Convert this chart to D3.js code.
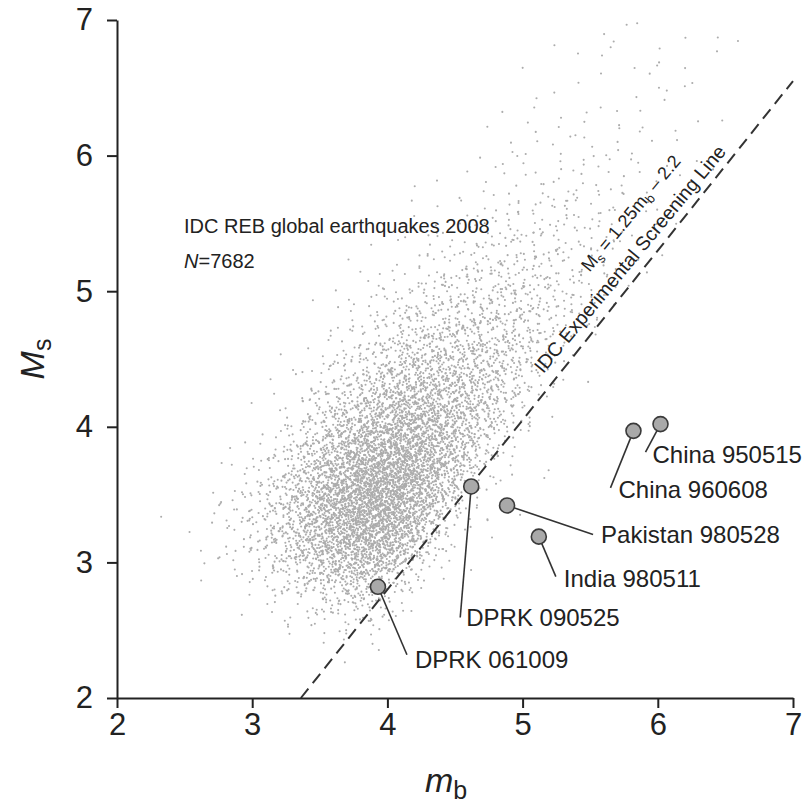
<!DOCTYPE html>
<html>
<head>
<meta charset="utf-8">
<script src="https://cdn.jsdelivr.net/npm/d3@7"></script>
<style>
  body { margin: 0; background: #fff; }
  text { font-family: "Liberation Sans", Arial, sans-serif; fill: #222; }
</style>
</head>
<body>
<div id="chart"></div>
<script>
// mb vs Ms for IDC REB earthquakes 2008, with explosion events

// earthquake cloud, read off the picture as counts per 0.2 x 0.2 bin
// mbBins = lower edge of each column, msBins = lower edge of each row
const mbBins = [2.4, 2.6, 2.8, 3.0, 3.2, 3.4, 3.6, 3.8, 4.0, 4.2, 4.4, 4.6, 4.8, 5.0, 5.2, 5.4, 5.6, 5.8, 6.0, 6.2, 6.4];
const msBins = [2.2, 2.4, 2.6, 2.8, 3.0, 3.2, 3.4, 3.6, 3.8, 4.0, 4.2, 4.4, 4.6, 4.8, 5.0, 5.2, 5.4, 5.6, 5.8, 6.0, 6.2, 6.4, 6.6, 6.8];
const quakeCounts = [
  [0,0,0,0,1,1,0,0,0,0,0,0,0,0,0,0,0,0,0,0,0,0,0,0],
  [0,0,0,1,3,3,2,1,0,0,0,0,0,0,0,0,0,0,0,0,0,0,0,0],
  [0,0,1,4,8,9,7,3,1,0,0,0,0,0,0,0,0,0,0,0,0,0,0,0],
  [0,0,3,12,24,28,22,12,5,2,0,0,0,0,0,0,0,0,0,0,0,0,0,0],
  [0,2,9,30,58,70,60,38,18,8,3,1,0,0,0,0,0,0,0,0,0,0,0,0],
  [0,4,18,58,110,140,135,100,60,30,14,6,2,1,0,0,0,0,0,0,0,0,0,0],
  [1,7,28,85,160,205,210,170,115,65,32,15,7,3,1,0,0,0,0,0,0,0,0,0],
  [0,6,28,90,185,245,260,225,165,105,60,30,15,7,3,1,0,0,0,0,0,0,0,0],
  [0,1,5,28,130,195,230,230,195,145,95,55,30,15,7,3,1,0,0,0,0,0,0,0],
  [0,0,0,4,30,85,140,165,160,135,100,68,42,24,12,6,3,1,0,0,0,0,0,0],
  [0,0,0,0,2,10,48,88,105,105,90,68,46,30,17,9,4,2,1,0,0,0,0,0],
  [0,0,0,0,1,2,4,18,48,66,68,62,48,35,22,13,7,3,2,1,0,0,0,0],
  [0,0,0,0,0,1,2,3,7,25,40,45,41,34,25,17,10,6,3,2,1,0,0,0],
  [0,0,0,0,0,0,1,1,1,3,10,21,26,25,20,16,11,7,4,3,2,1,0,0],
  [0,0,0,0,0,0,0,0,0,0,2,5,13,17,17,14,11,8,5,4,2,1,1,1],
  [0,0,0,0,0,0,0,0,0,0,0,0,3,7,9,10,8,6,5,3,2,2,1,2],
  [0,0,0,0,0,0,0,0,0,0,0,0,0,2,4,6,6,5,4,3,2,1,1,3],
  [0,0,0,0,0,0,0,0,0,0,0,0,0,0,1,2,3,4,3,3,2,2,1,2],
  [0,0,0,0,0,0,0,0,0,0,0,0,0,0,0,0,1,2,2,2,2,1,2,1],
  [0,0,0,0,0,0,0,0,0,0,0,0,0,0,0,0,0,0,1,1,1,1,2,1],
  [0,0,0,0,0,0,0,0,0,0,0,0,0,0,0,0,0,0,0,0,1,0,1,1]
];
const binSize = 0.2;

// explosions
const eventNames = ["DPRK 061009", "DPRK 090525", "Pakistan 980528", "India 980511", "China 960608", "China 950515"];
const eventMb = [3.93, 4.62, 4.885, 5.12, 5.82, 6.02];
const eventMs = [2.82, 3.56, 3.42, 3.19, 3.97, 4.02];

// screening line Ms = 1.25 mb - 2.2
const screenSlope = 1.25, screenIntercept = -2.2;

const tickValues = [2, 3, 4, 5, 6, 7];

// leader line end (px from the circle) and text offset (px from leader end)
const leaderOffsets = [[29, 68], [-11, 131], [86, 29], [17, 40], [-23, 57], [-15, 28]];
const textOffsets = [[8, 13], [6, 9], [8, 9], [8, 10], [8, 10], [7, 11]];

const width = 807, height = 809,
    margin = ({top: 20, right: 14, bottom: 111, left: 117});

let svg = d3.select("#chart")
    .append("svg")
    .attr("width", width)
    .attr("height", height)
    .attr("viewBox", [0, 0, width, height]);

const x = d3.scaleLinear()
    .domain([2, 7])
    .range([margin.left, width - margin.right]);

const y = d3.scaleLinear()
    .domain([2, 7])
    .range([height - margin.bottom, margin.top]);

// halton radical inverse, used to lay each bin's count out evenly
function halton(i, b) {
    let f = 1, r = 0;
    while (i > 0) { f /= b; r += f * (i % b); i = Math.floor(i / b); }
    return r;
}

// each bin's dots spread with a tent footprint (two bins wide) so bins blend
const quakes = [];
quakeCounts.forEach((col, i) => {
    col.forEach((n, j) => {
        const k0 = 1 + (i * msBins.length + j) * 211;
        for (let k = k0; k < k0 + n; k++) {
            const u = halton(k, 2) + halton(k, 3) - 1;   // -1..1
            const v = halton(k, 5) + halton(k, 7) - 1;
            const mb = mbBins[i] + binSize / 2 + u * binSize;
            const ms = msBins[j] + binSize / 2 + v * binSize;
            if (ms <= 7 && mb <= 7) quakes.push({mb, ms});
        }
    });
});

svg.append("g")
    .selectAll("circle")
    .data(quakes)
    .join("circle")
    .attr("cx", d => x(d.mb))
    .attr("cy", d => y(d.ms))
    .attr("r", 1.05)
    .attr("fill", "#acacac");

// screening line
const mbStart = (2 - screenIntercept) / screenSlope;
const lineData = [mbStart, 7].map(m => [m, screenSlope * m + screenIntercept]);
svg.append("path")
    .attr("d", d3.line().x(d => x(d[0])).y(d => y(d[1]))(lineData))
    .attr("fill", "none")
    .attr("stroke", "#333")
    .attr("stroke-width", 2)
    .attr("stroke-dasharray", "12,7");

// labels along the line
const ang = Math.atan2(y(screenSlope * 7 + screenIntercept) - y(screenSlope * 5 + screenIntercept), x(7) - x(5));
const angDeg = ang * 180 / Math.PI + 1;
const a = angDeg * Math.PI / 180;
const ux = Math.cos(a), uy = Math.sin(a);   // along the line
const nx = Math.sin(a), ny = -Math.cos(a);  // away from the line (up-left)
const refMb = 5.86;
const px0 = x(refMb), py0 = y(screenSlope * refMb + screenIntercept);

const lineLabel = (along, off) => svg.append("text")
    .attr("transform", `translate(${px0 + ux * along + nx * off},${py0 + uy * along + ny * off}) rotate(${angDeg})`)
    .attr("text-anchor", "middle");

lineLabel(6, 10)
    .style("font-size", "19.5px")
    .text("IDC Experimental Screening Line");

let eq = lineLabel(42, 39).style("font-size", "18px");
eq.append("tspan").text("M");
eq.append("tspan").attr("dy", 4).style("font-size", "13px").text("s");
eq.append("tspan").attr("dy", -4).text(" = 1.25m");
eq.append("tspan").attr("dy", 4).style("font-size", "13px").text("b");
eq.append("tspan").attr("dy", -4).text(" \u2013 2.2");

// axes
const xAxis = g => g
    .attr("transform", `translate(0,${y(2)})`)
    .call(d3.axisBottom(x).tickValues(tickValues).tickFormat(d3.format("d")).tickSize(10).tickSizeOuter(0).tickPadding(5));

const yAxis = g => g
    .attr("transform", `translate(${x(2)},0)`)
    .call(d3.axisLeft(y).tickValues(tickValues).tickFormat(d3.format("d")).tickSize(10).tickSizeOuter(0).tickPadding(14));

[xAxis, yAxis].forEach(ax => {
    svg.append("g").call(ax)
        .call(g => g.selectAll("path, line").attr("stroke", "#222").attr("stroke-width", 2))
        .call(g => g.selectAll("text")
            .style("font-size", "31px")
            .style("font-family", "'Liberation Sans', Arial, sans-serif")
            .attr("fill", "#222"));
});

// axis titles
let xt = svg.append("text")
    .attr("x", 446)
    .attr("y", 792)
    .attr("text-anchor", "middle")
    .style("font-size", "34px");
xt.append("tspan").style("font-style", "italic").text("m");
xt.append("tspan").attr("dy", 7).style("font-size", "25px").text("b");

let yt = svg.append("text")
    .attr("transform", `translate(44,${(y(2) + y(7)) / 2}) rotate(-90)`)
    .attr("text-anchor", "middle")
    .style("font-size", "34px");
yt.append("tspan").style("font-style", "italic").text("M");
yt.append("tspan").attr("dy", 7).style("font-size", "25px").text("s");

// annotation
svg.append("text")
    .attr("x", 184).attr("y", 233)
    .style("font-size", "20px")
    .text("IDC REB global earthquakes 2008");

let nt = svg.append("text")
    .attr("x", 184).attr("y", 268)
    .style("font-size", "20px");
nt.append("tspan").style("font-style", "italic").text("N");
nt.append("tspan").text("=7682");

// events
const events = eventNames.map((name, i) => ({name, mb: eventMb[i], ms: eventMs[i], lead: leaderOffsets[i], tx: textOffsets[i]}));

let ev = svg.selectAll(".event")
    .data(events)
    .join("g")
    .attr("class", "event");

ev.append("line")
    .attr("x1", d => x(d.mb))
    .attr("y1", d => y(d.ms))
    .attr("x2", d => x(d.mb) + d.lead[0])
    .attr("y2", d => y(d.ms) + d.lead[1])
    .attr("stroke", "#333")
    .attr("stroke-width", 1.6);

ev.append("circle")
    .attr("cx", d => x(d.mb))
    .attr("cy", d => y(d.ms))
    .attr("r", 7.5)
    .attr("fill", "#a9a9a9")
    .attr("stroke", "#3a3a3a")
    .attr("stroke-width", 1.6);

ev.append("text")
    .attr("x", d => x(d.mb) + d.lead[0] + d.tx[0])
    .attr("y", d => y(d.ms) + d.lead[1] + d.tx[1])
    .style("font-size", "24px")
    .text(d => d.name);
</script>
</body>
</html>
